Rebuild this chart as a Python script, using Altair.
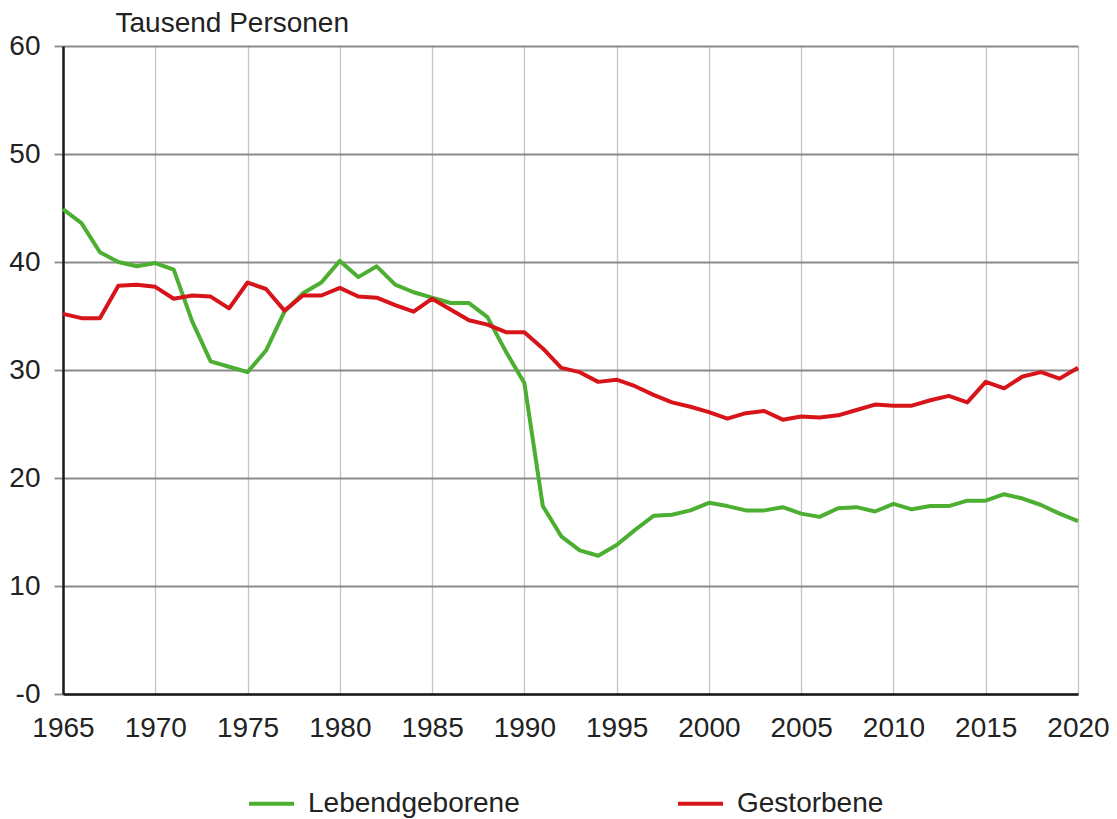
import altair as alt
import pandas as pd

years = list(range(1965, 2021))

lebendgeborene = [
    44.9, 43.6, 40.9, 40.0, 39.6, 39.9, 39.3, 34.5, 30.8, 30.3,
    29.8, 31.8, 35.4, 37.1, 38.1, 40.1, 38.6, 39.6, 37.9, 37.2,
    36.7, 36.2, 36.2, 34.9, 31.7, 28.8, 17.4, 14.6, 13.3, 12.8,
    13.8, 15.2, 16.5, 16.6, 17.0, 17.7, 17.4, 17.0, 17.0, 17.3,
    16.7, 16.4, 17.2, 17.3, 16.9, 17.6, 17.1, 17.4, 17.4, 17.9,
    17.9, 18.5, 18.1, 17.5, 16.7, 16.0,
]

gestorbene = [
    35.2, 34.8, 34.8, 37.8, 37.9, 37.7, 36.6, 36.9, 36.8, 35.7,
    38.1, 37.5, 35.5, 36.9, 36.9, 37.6, 36.8, 36.7, 36.0, 35.4,
    36.6, 35.6, 34.6, 34.2, 33.5, 33.5, 32.0, 30.2, 29.8, 28.9,
    29.1, 28.5, 27.7, 27.0, 26.6, 26.1, 25.5, 26.0, 26.2, 25.4,
    25.7, 25.6, 25.8, 26.3, 26.8, 26.7, 26.7, 27.2, 27.6, 27.0,
    28.9, 28.3, 29.4, 29.8, 29.2, 30.2,
]

series_names = ["Lebendgeborene", "Gestorbene"]
series_colors = ["#4caf32", "#d7141a"]
x_ticks = list(range(1965, 2021, 5))
y_ticks = [0, 10, 20, 30, 40, 50, 60]

rows = []
for name, vals in zip(series_names, [lebendgeborene, gestorbene]):
    for y, v in zip(years, vals):
        rows.append({"Jahr": y, "Wert": v, "Reihe": name})
df = pd.DataFrame(rows)

FONT = "Liberation Sans"
TXT = "#222222"
FS = 28

chart = (
    alt.Chart(df)
    .mark_line(strokeWidth=4, strokeJoin="round")
    .encode(
        x=alt.X(
            "Jahr:Q",
            scale=alt.Scale(domain=[1965, 2020], nice=False, zero=False),
            axis=alt.Axis(
                values=x_ticks,
                format="d",
                title=None,
                ticks=False,
                labelFontSize=FS,
                labelFont=FONT,
                labelColor=TXT,
                labelPadding=20,
                labelFlush=False,
                labelOverlap=False,
                domainColor="#1a1a1a",
                domainWidth=2.5,
                grid=True,
                gridColor="#c4c4c4",
                gridWidth=1.3,
            ),
        ),
        y=alt.Y(
            "Wert:Q",
            scale=alt.Scale(domain=[0, 60], nice=False),
            axis=alt.Axis(
                values=y_ticks,
                title="Tausend Personen",
                titleAngle=0,
                titleX=52,
                titleY=-15,
                titleAlign="left",
                titleBaseline="alphabetic",
                titleFontSize=FS,
                titleFontWeight="normal",
                titleFont=FONT,
                titleColor=TXT,
                labelExpr="datum.value == 0 ? '-0' : datum.label",
                labelFontSize=FS,
                labelFont=FONT,
                labelColor=TXT,
                labelPadding=14,
                tickSize=9,
                tickColor="#8a8a8a",
                tickWidth=1.8,
                domainColor="#1a1a1a",
                domainWidth=2.5,
                grid=True,
                gridColor="#8a8a8a",
                gridWidth=1.8,
            ),
        ),
        color=alt.Color(
            "Reihe:N",
            scale=alt.Scale(domain=series_names, range=series_colors),
            sort=series_names,
            legend=alt.Legend(
                title=None,
                orient="none",
                legendX=184,
                legendY=733,
                direction="horizontal",
                symbolType="stroke",
                symbolSize=2025,
                symbolStrokeWidth=4,
                labelFontSize=FS,
                labelFont=FONT,
                labelColor=TXT,
                labelOffset=12,
                labelLimit=500,
                columnPadding=150,
                padding=0,
            ),
        ),
    )
    .properties(
        width=1015,
        height=648,
        autosize=alt.AutoSizeParams(type="none"),
        padding={"left": 55, "top": 38, "right": 31, "bottom": 124},
    )
    .configure_view(stroke="#333333", strokeWidth=2)
    .configure(background="white")
)

chart.save("out.html", embed_options={"renderer": "svg", "actions": False})
